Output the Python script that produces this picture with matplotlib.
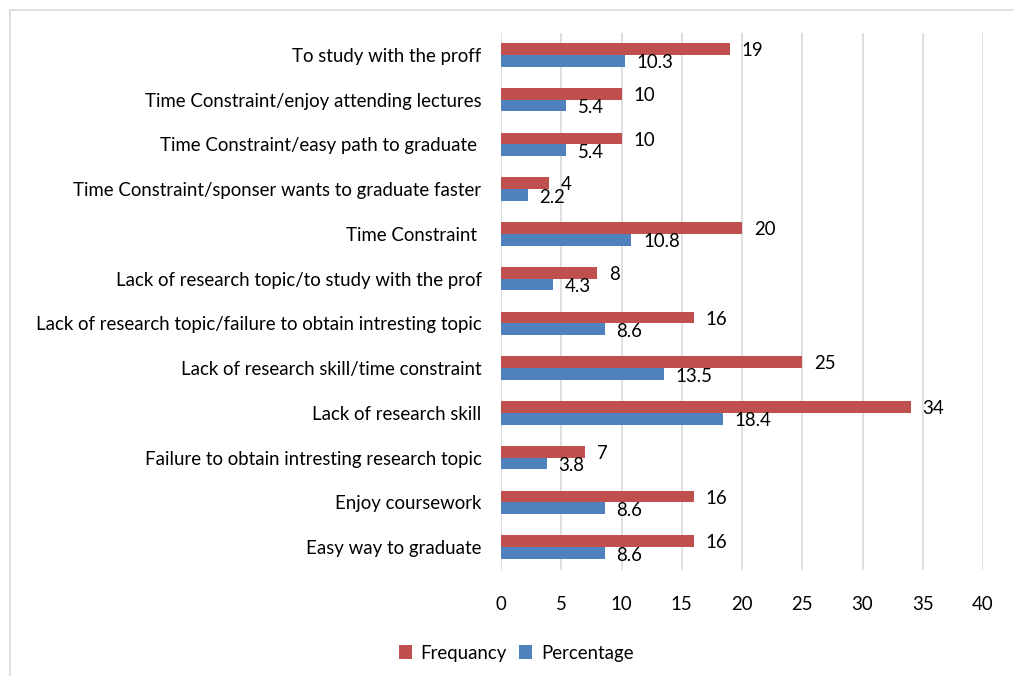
import matplotlib
matplotlib.use("Agg")
import matplotlib.pyplot as plt
from matplotlib.lines import Line2D
import numpy as np

categories = [
    "Easy way to graduate",
    "Enjoy coursework",
    "Failure to obtain intresting research topic",
    "Lack of research skill",
    "Lack of research skill/time constraint",
    "Lack of research topic/failure to obtain intresting topic",
    "Lack of research topic/to study with the prof",
    "Time Constraint ",
    "Time Constraint/sponser wants to graduate faster",
    "Time Constraint/easy path to graduate ",
    "Time Constraint/enjoy attending lectures",
    "To study with the proff",
]
frequency = [16, 16, 7, 34, 25, 16, 8, 20, 4, 10, 10, 19]
percentage = [8.6, 8.6, 3.8, 18.4, 13.5, 8.6, 4.3, 10.8, 2.2, 5.4, 5.4, 10.3]
x_ticks = [0, 5, 10, 15, 20, 25, 30, 35, 40]

plt.rcParams['font.family'] = ['Lato', 'DejaVu Sans']
W, H = 1014, 676
fig = plt.figure(figsize=(W / 100, H / 100), dpi=100)
ax = fig.add_axes([501 / W, 1 - 569.5 / H, (983 - 501) / W, (569.5 - 32.5) / H])

red = "#C0504D"
blue = "#4F81BD"
y = np.arange(len(categories))
bh = 0.265
ax.barh(y + bh / 2, frequency, height=bh, color=red, label="Frequancy", zorder=3)
ax.barh(y - bh / 2, percentage, height=bh, color=blue, label="Percentage", zorder=3)

fs = 13.4
for yi, v in zip(y, frequency):
    ax.annotate(f"{v:g}", (v, yi + bh / 2), xytext=(8.5, -1.2), textcoords="offset points",
                va="center", ha="left", fontsize=fs, color="#000000")
for yi, v in zip(y, percentage):
    ax.annotate(f"{v:g}", (v, yi - bh / 2), xytext=(8.5, -1.5), textcoords="offset points",
                va="center", ha="left", fontsize=fs, color="#000000")

ax.set_xlim(0, 40)
ax.set_ylim(-0.5, len(categories) - 0.5)
ax.set_xticks(x_ticks)
ax.set_yticks(y)
ax.set_yticklabels(categories, fontsize=fs)
ax.tick_params(axis='x', labelsize=fs, length=0, pad=19)
ax.tick_params(axis='y', length=0, pad=14)
ax.grid(axis='x', color="#D9D9D9", linewidth=1.2, zorder=0)
for s in ax.spines.values():
    s.set_visible(False)

# figure border (left and top visible)
fig.add_artist(Line2D([10 / W, 10 / W], [0, 1 - 10 / H], color="#D9D9D9", lw=1.2))
fig.add_artist(Line2D([10 / W, 1], [1 - 10 / H, 1 - 10 / H], color="#D9D9D9", lw=1.2))

fig.legend(loc="center", bbox_to_anchor=(516 / W, 1 - 653 / H), ncol=2, frameon=False,
           fontsize=fs, handlelength=0.7, handleheight=0.7, columnspacing=0.7, handletextpad=0.45)

fig.savefig("out.png", dpi=100, facecolor="white")
